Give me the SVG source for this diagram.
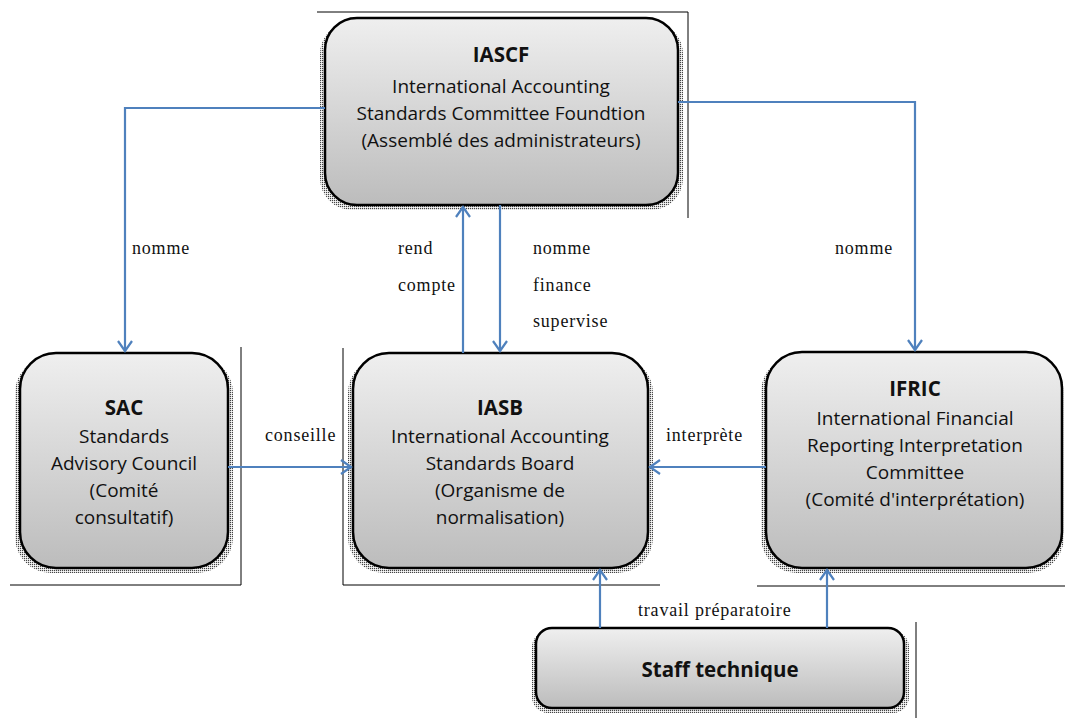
<svg xmlns="http://www.w3.org/2000/svg" width="1065" height="720" viewBox="0 0 1065 720">
<style>
.box{stroke:#000;stroke-width:2.5;fill:url(#g)}
.sh{fill:url(#dots)}
.t{font-family:"Open Sans","Liberation Sans",sans-serif;font-size:19px;fill:#111;text-anchor:middle}
.b{font-weight:bold;font-size:20.5px}
.lb{font-family:"Liberation Serif",serif;font-size:18px;letter-spacing:0.8px;fill:#111}
.c{stroke:#4f81bd;stroke-width:2.2;fill:none}
.fr{stroke:#000;stroke-width:1;fill:none}
</style>
<defs>
<linearGradient id="g" x1="0" y1="0" x2="0" y2="1">
<stop offset="0" stop-color="#efefef"/>
<stop offset="1" stop-color="#bcbcbc"/>
</linearGradient>
<pattern id="dots" width="2" height="2" patternUnits="userSpaceOnUse">
<rect width="1.2" height="1.2" fill="#444"/>
</pattern>
<marker id="a" markerWidth="14" markerHeight="16" refX="11" refY="8" orient="auto" markerUnits="userSpaceOnUse">
<path d="M1,1 L11,8 L1,15" fill="none" stroke="#4f81bd" stroke-width="2.2"/>
</marker>
</defs>
<g id="frames">
<path class="fr" d="M317,12 H688 V218"/>
<path class="fr" d="M241,347 V585 H10"/>
<path class="fr" d="M343,348 V585 H660"/>
<path class="fr" d="M757,586 H1065"/>
<path class="fr" d="M916,622 V718"/>
</g>
<g id="IASCF">
<rect class="sh" x="320" y="22" width="363" height="188" rx="32"/>
<rect class="box" x="325" y="18" width="353" height="187" rx="32"/>
<text class="t b" x="501" y="62">IASCF</text>
<text class="t" x="501" y="93">International  Accounting</text>
<text class="t" x="501" y="120">Standards Committee  Foundtion</text>
<text class="t" x="501" y="147">(Assemblé des administrateurs)</text>
</g>
<g id="SAC">
<rect class="sh" x="15" y="357" width="218" height="216" rx="36"/>
<rect class="box" x="20" y="353" width="208" height="215" rx="36"/>
<text class="t b" x="124" y="415">SAC</text>
<text class="t" x="124" y="443">Standards</text>
<text class="t" x="124" y="470">Advisory Council</text>
<text class="t" x="124" y="497">(Comité</text>
<text class="t" x="124" y="524">consultatif)</text>
</g>
<g id="IASB">
<rect class="sh" x="348" y="357" width="305" height="216" rx="36"/>
<rect class="box" x="353" y="353" width="295" height="215" rx="36"/>
<text class="t b" x="500" y="415">IASB</text>
<text class="t" x="500" y="443">International Accounting</text>
<text class="t" x="500" y="470">Standards Board</text>
<text class="t" x="500" y="497">(Organisme de</text>
<text class="t" x="500" y="524">normalisation)</text>
</g>
<g id="IFRIC">
<rect class="sh" x="761" y="356" width="303" height="217" rx="36"/>
<rect class="box" x="766" y="352" width="296" height="216" rx="36"/>
<text class="t b" x="915" y="396">IFRIC</text>
<text class="t" x="915" y="425">International  Financial</text>
<text class="t" x="915" y="452">Reporting Interpretation</text>
<text class="t" x="915" y="479">Committee</text>
<text class="t" x="915" y="506">(Comité d'interprétation)</text>
</g>
<g id="Staff">
<rect class="sh" x="532" y="631" width="377" height="82" rx="16"/>
<rect class="box" x="536" y="628" width="368" height="80" rx="16"/>
<text class="t b" x="720" y="677">Staff technique</text>
</g>
<g id="connectors">
<path class="c" d="M325,108 H125 V351" marker-end="url(#a)"/>
<path class="c" d="M678,102 H915 V350" marker-end="url(#a)"/>
<path class="c" d="M463,353 V207" marker-end="url(#a)"/>
<path class="c" d="M500,205 V351" marker-end="url(#a)"/>
<path class="c" d="M228,467 H351" marker-end="url(#a)"/>
<path class="c" d="M766,467 H650" marker-end="url(#a)"/>
<path class="c" d="M600,628 V570" marker-end="url(#a)"/>
<path class="c" d="M827,628 V570" marker-end="url(#a)"/>
</g>
<g id="labels">
<text class="lb" x="132" y="254">nomme</text>
<text class="lb" x="398" y="254">rend</text>
<text class="lb" x="398" y="291">compte</text>
<text class="lb" x="533" y="254">nomme</text>
<text class="lb" x="533" y="291">finance</text>
<text class="lb" x="533" y="327">supervise</text>
<text class="lb" x="835" y="254">nomme</text>
<text class="lb" x="265" y="441">conseille</text>
<text class="lb" x="666" y="441">interprète</text>
<text class="lb" x="638" y="616">travail préparatoire</text>
</g>
</svg>
